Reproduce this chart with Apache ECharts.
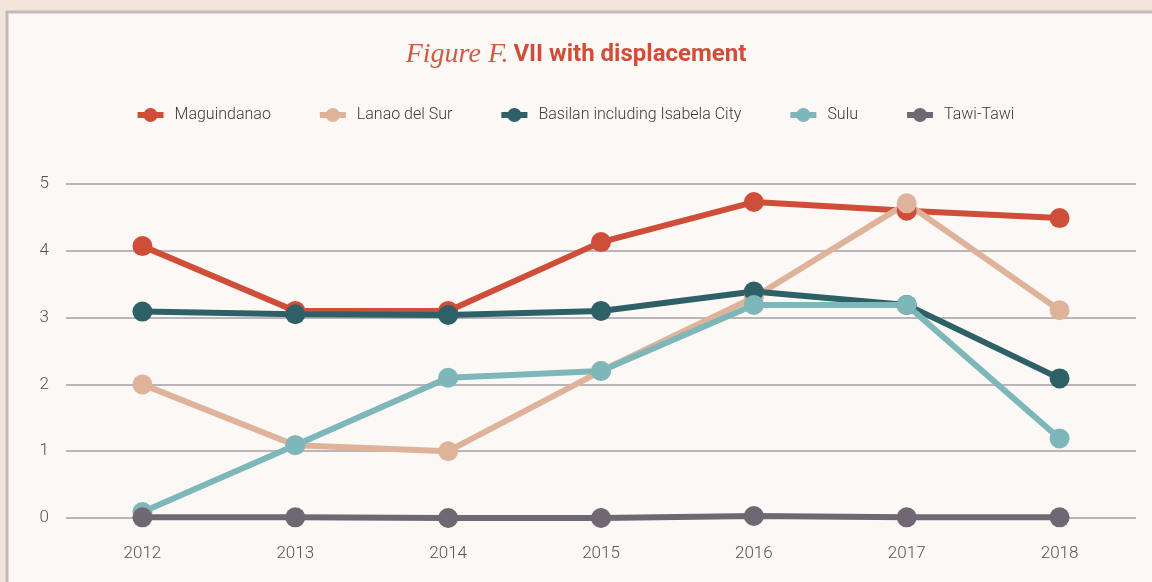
<!DOCTYPE html>
<html>
<head>
<meta charset="utf-8">
<style>
  html, body { margin: 0; padding: 0; background: #f3e5da; }
  #chart { width: 1152px; height: 582px; }
</style>
<script src="https://cdn.jsdelivr.net/npm/echarts@6/dist/echarts.min.js"></script>
</head>
<body>
<div id="chart"></div>
<script>
// categories and series values
const years = ['2012', '2013', '2014', '2015', '2016', '2017', '2018'];
const maguindanao = [4.07, 3.1, 3.1, 4.13, 4.73, 4.6, 4.49];
const lanaoDelSur = [2.0, 1.09, 1.0, 2.2, 3.3, 4.71, 3.11];
const basilan = [3.09, 3.05, 3.04, 3.1, 3.39, 3.19, 2.09];
const sulu = [0.09, 1.09, 2.1, 2.2, 3.19, 3.19, 1.19];
const tawiTawi = [0.01, 0.01, 0, 0, 0.03, 0.01, 0.01];

const seriesDefs = [
    { name: 'Maguindanao', data: maguindanao, color: '#cf4e3a' },
    { name: 'Lanao del Sur', data: lanaoDelSur, color: '#dfb29a' },
    { name: 'Basilan including Isabela City', data: basilan, color: '#2e6068' },
    { name: 'Sulu', data: sulu, color: '#7db7ba' },
    { name: 'Tawi-Tawi', data: tawiTawi, color: '#6f6873' }
];

// legend marker: thick bar with a dot in the middle
const legendIcon = 'path://M0,5 H26 V11 H0 Z M13,1 A7,7 0 1 1 13,15 A7,7 0 1 1 13,1 Z';

const myChart = echarts.init(document.getElementById('chart'));

const option = {
    backgroundColor: '#f3e5da',
    animation: false,
    graphic: [
        {
            // the card behind the chart
            type: 'rect',
            z: -10,
            shape: { x: 7, y: 12, width: 1160, height: 600 },
            style: { fill: '#fcf8f5', stroke: '#c2babb', lineWidth: 3 }
        }
    ],
    title: {
        left: 'center',
        top: 36,
        text: '{a|Figure F.} {b|VII with displacement}',
        textStyle: {
            rich: {
                a: {
                    fontFamily: 'Liberation Serif',
                    fontStyle: 'italic',
                    fontWeight: 'normal',
                    fontSize: 28,
                    color: '#d15a47'
                },
                b: {
                    fontFamily: 'Roboto',
                    fontWeight: 'bold',
                    fontSize: 24,
                    color: '#cf4e3a'
                }
            }
        }
    },
    legend: {
        top: 102,
        left: 'center',
        itemGap: 49,
        itemWidth: 26,
        itemHeight: 16,
        icon: legendIcon,
        textStyle: { fontFamily: 'Roboto', fontSize: 16, fontWeight: 300, color: '#3a3a3a', padding: [0, 0, 0, 6] },
        data: seriesDefs.map(s => s.name)
    },
    grid: {
        left: 66,
        right: 16,
        top: 184,
        bottom: 64
    },
    xAxis: {
        type: 'category',
        data: years,
        boundaryGap: true,
        axisLine: { show: false },
        axisTick: { show: false },
        axisLabel: {
            margin: 27,
            fontFamily: 'Roboto',
            fontWeight: 300,
            fontSize: 17,
            color: '#555'
        }
    },
    yAxis: {
        type: 'value',
        min: 0,
        max: 5,
        interval: 1,
        axisLine: { show: false },
        axisTick: { show: false },
        axisLabel: {
            margin: 17,
            fontFamily: 'Roboto',
            fontWeight: 300,
            fontSize: 17,
            color: '#555'
        },
        splitLine: { lineStyle: { color: '#b9b5b8', width: 2 } }
    },
    series: seriesDefs.map(s => ({
        name: s.name,
        type: 'line',
        data: s.data,
        symbol: 'circle',
        symbolSize: 20,
        color: s.color,
        lineStyle: { width: 6, color: s.color },
        itemStyle: { color: s.color }
    }))
};

myChart.setOption(option);
</script>
</body>
</html>
